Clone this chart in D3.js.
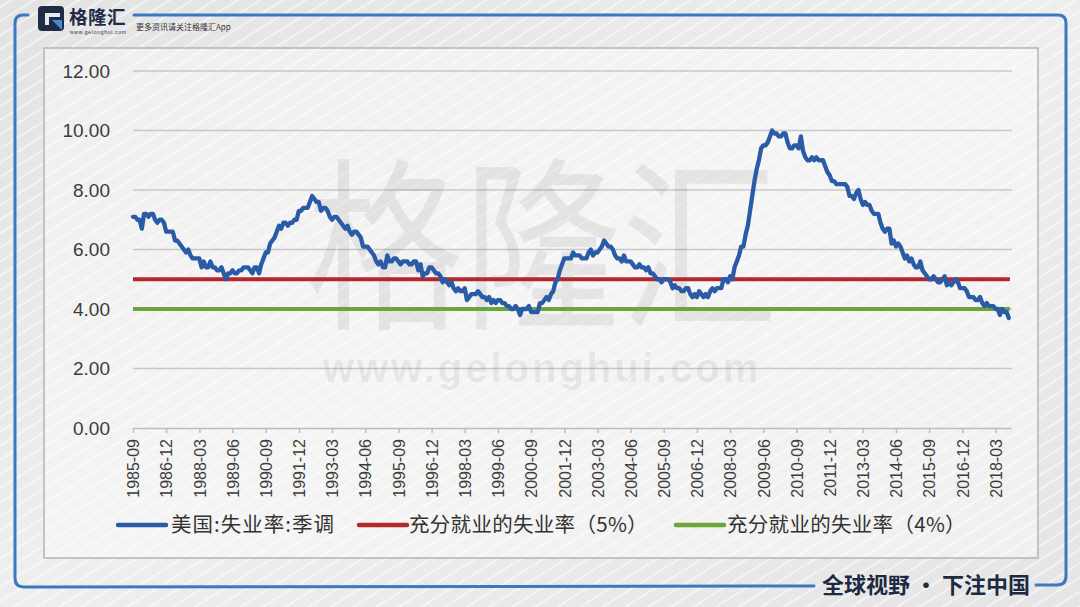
<!DOCTYPE html>
<html><head><meta charset="utf-8">
<script src="https://cdn.jsdelivr.net/npm/d3@7"></script>
<style>body{margin:0;background:#e9e9e9;} svg{display:block}</style>
</head><body><svg id="c" width="1080" height="607"></svg>
<script>
// ---------- DATA ----------
const startYear = 1985, startMonth = 9;
// US unemployment rate, seasonally adjusted, monthly 1985-09 .. 2018-09
const unemployment = [
  7.1,7.1,7.0,7.0,
  6.7,7.2,7.2,7.1,7.2,7.2,7.0,6.9,7.0,7.0,6.9,6.6,
  6.6,6.6,6.6,6.3,6.3,6.2,6.1,6.0,5.9,6.0,5.8,5.7,
  5.7,5.7,5.7,5.4,5.6,5.4,5.4,5.6,5.4,5.4,5.3,5.3,
  5.4,5.2,5.0,5.2,5.2,5.3,5.2,5.2,5.3,5.3,5.4,5.4,
  5.4,5.3,5.2,5.4,5.4,5.2,5.5,5.7,5.9,5.9,6.2,6.3,
  6.4,6.6,6.8,6.7,6.9,6.9,6.8,6.9,6.9,7.0,7.0,7.3,
  7.3,7.4,7.4,7.4,7.6,7.8,7.7,7.6,7.6,7.3,7.4,7.4,
  7.3,7.1,7.0,7.1,7.1,7.0,6.9,6.8,6.7,6.8,6.6,6.5,
  6.6,6.6,6.5,6.4,6.1,6.1,6.1,6.0,5.9,5.8,5.6,5.5,
  5.6,5.4,5.4,5.8,5.6,5.6,5.7,5.7,5.6,5.5,5.6,5.6,
  5.6,5.5,5.5,5.6,5.6,5.3,5.5,5.1,5.2,5.2,5.4,5.4,
  5.3,5.2,5.2,5.1,4.9,5.0,4.9,4.8,4.9,4.7,4.6,4.7,
  4.6,4.6,4.7,4.3,4.4,4.5,4.5,4.5,4.6,4.5,4.4,4.4,
  4.3,4.4,4.2,4.3,4.2,4.3,4.3,4.2,4.2,4.1,4.1,4.0,
  4.0,4.1,4.0,3.8,4.0,4.0,4.0,4.1,3.9,3.9,3.9,3.9,
  4.2,4.2,4.3,4.4,4.3,4.5,4.6,4.9,5.0,5.3,5.5,5.7,
  5.7,5.7,5.7,5.9,5.8,5.8,5.8,5.7,5.7,5.7,5.9,6.0,
  5.8,5.9,5.9,6.0,6.1,6.3,6.2,6.1,6.1,6.0,5.8,5.7,
  5.7,5.6,5.8,5.6,5.6,5.6,5.5,5.4,5.4,5.5,5.4,5.4,
  5.3,5.4,5.2,5.2,5.1,5.0,5.0,4.9,5.0,5.0,5.0,4.9,
  4.7,4.8,4.7,4.7,4.6,4.6,4.7,4.7,4.5,4.4,4.5,4.4,
  4.6,4.5,4.4,4.5,4.4,4.6,4.7,4.6,4.7,4.7,4.7,5.0,
  5.0,4.9,5.1,5.0,5.4,5.6,5.8,6.1,6.1,6.5,6.8,7.3,
  7.8,8.3,8.7,9.0,9.4,9.5,9.5,9.6,9.8,10.0,9.9,9.9,
  9.8,9.8,9.9,9.9,9.6,9.4,9.4,9.5,9.5,9.4,9.8,9.3,
  9.1,9.0,9.0,9.1,9.0,9.1,9.0,9.0,9.0,8.8,8.6,8.5,
  8.3,8.3,8.2,8.2,8.2,8.2,8.2,8.1,7.8,7.8,7.7,7.9,
  8.0,7.7,7.5,7.6,7.5,7.5,7.3,7.2,7.2,7.2,6.9,6.7,
  6.6,6.7,6.7,6.2,6.3,6.1,6.2,6.1,5.9,5.7,5.8,5.6,
  5.7,5.5,5.4,5.4,5.6,5.3,5.2,5.1,5.0,5.0,5.1,5.0,
  4.9,4.9,5.0,5.1,4.8,4.9,4.8,4.9,5.0,4.9,4.7,4.7,
  4.7,4.6,4.4,4.4,4.4,4.3,4.3,4.4,4.2,4.1,4.2,4.1,
  4.1,4.1,4.0,4.0,3.8,4.0,3.9,3.9,3.7
];
const fullEmployment5 = 5;
const fullEmployment4 = 4;
const tickLabels = ["1985-09","1986-12","1988-03","1989-06","1990-09","1991-12","1993-03","1994-06","1995-09","1996-12","1998-03","1999-06","2000-09","2001-12","2003-03","2004-06","2005-09","2006-12","2008-03","2009-06","2010-09","2011-12","2013-03","2014-06","2015-09","2016-12","2018-03"];
const yTicks = [0,2,4,6,8,10,12];
const seriesNames = ["美国:失业率:季调","充分就业的失业率（5%）","充分就业的失业率（4%）"];
const seriesColors = ["#2a5ba6","#b3282d","#6ca53a"];

const categories = unemployment.map((_, i) => {
  const m = startMonth - 1 + i;
  return `${startYear + Math.floor(m / 12)}-${String(m % 12 + 1).padStart(2, "0")}`;
});

// ---------- DRAW ----------
const svg = d3.select("#c");
const defs = svg.append("defs");
const bgGrad = defs.append("linearGradient").attr("id","bgg").attr("x1","0").attr("y1","0").attr("x2","1").attr("y2","1");
bgGrad.append("stop").attr("offset","0").attr("stop-color","#e3e3e3");
bgGrad.append("stop").attr("offset","0.5").attr("stop-color","#eeeeee");
bgGrad.append("stop").attr("offset","1").attr("stop-color","#e5e5e5");
const pat = defs.append("pattern").attr("id","stripes").attr("patternUnits","userSpaceOnUse")
  .attr("width",12).attr("height",12).attr("patternTransform","rotate(-32)");
pat.append("line").attr("x1",0).attr("y1",6).attr("x2",12).attr("y2",6)
  .attr("stroke","#ffffff").attr("stroke-width",1.1).attr("stroke-opacity",0.9);

svg.append("rect").attr("width",1080).attr("height",607).attr("fill","url(#bgg)");
svg.append("rect").attr("width",1080).attr("height",607).attr("fill","url(#stripes)");

// inner panel
svg.append("rect").attr("x",44).attr("y",48).attr("width",994).attr("height",510)
  .attr("fill","#ffffff").attr("fill-opacity",0.4).attr("stroke","#b4b4b4").attr("stroke-width",1.5);

// frame
const frameColor = "#3b78c0";
const frame = svg.append("g").attr("fill","none").attr("stroke",frameColor).attr("stroke-width",3).attr("stroke-linecap","round");
frame.append("path").attr("d","M28,15 L23,15 Q15,15 15,23 L15,578 Q15,587 24,587 L814,586");
frame.append("path").attr("d","M134,15 L1058,15 Q1066,15 1066,23 L1066,576 Q1066,585 1057,585 L1036,585");

// logo
const logo = svg.append("g");
logo.append("rect").attr("x",38).attr("y",6).attr("width",26).attr("height",25).attr("rx",4).attr("fill","#1e2c48");
logo.append("path").attr("d","M45,13 L60,13 L60,17 L49,17 L49,25 L45,25 Z").attr("fill","#e9e9e9");
logo.append("path").attr("d","M52,20 L62,20 L62,30 Z").attr("fill","#4a8ad0");
logo.append("text").attr("x",69).attr("y",24).attr("font-family","Noto Sans CJK SC").attr("font-weight",700)
  .attr("font-size",18.5).attr("fill","#1e2c48").attr("letter-spacing",0.5).text("格隆汇");
logo.append("text").attr("x",70).attr("y",34).attr("font-family","Liberation Sans").attr("font-size",5)
  .attr("fill","#1e2c48").attr("textLength",56).text("www.gelonghui.com");
logo.append("text").attr("x",136).attr("y",30).attr("font-family","Noto Sans CJK SC").attr("font-size",8)
  .attr("fill","#333").text("更多资讯请关注格隆汇App");

// scales
const x = d3.scaleLinear().domain([0, categories.length]).range([133, 1011]);
const y = d3.scaleLinear().domain([0, 12]).range([428, 71]);

// gridlines
svg.append("g").selectAll("line").data(yTicks.filter(d => d !== 0)).join("line")
  .attr("x1", x(0)).attr("x2", x(categories.length) + 1)
  .attr("y1", d => y(d)).attr("y2", d => y(d))
  .attr("stroke","#c8c8c8").attr("stroke-width",1.5);

// watermark
const wm = svg.append("g").attr("fill","#000").attr("fill-opacity",0.065);
wm.append("text").attr("transform","translate(542,315) scale(0.85,1)").attr("text-anchor","middle")
  .attr("font-family","Noto Sans CJK SC").attr("font-weight",400).attr("font-size",185)
  .text("格隆汇");
wm.append("text").attr("x",542).attr("y",382).attr("text-anchor","middle")
  .attr("font-family","Liberation Sans").attr("font-weight",700).attr("font-size",40)
  .attr("letter-spacing",3).text("www.gelonghui.com");

// y axis
const yAxis = svg.append("g").attr("transform","translate(110,0)")
  .call(d3.axisLeft(y).tickValues(yTicks).tickFormat(d3.format(".2f")).tickSize(0).tickPadding(0));
yAxis.select(".domain").remove();
yAxis.selectAll("text").attr("font-family","Liberation Sans").attr("font-size",19).attr("fill","#3c3c3c");

// x axis
const xAxis = svg.append("g").attr("transform","translate(0,428)")
  .call(d3.axisBottom(x).tickValues(tickLabels.map(l => categories.indexOf(l)))
    .tickFormat(i => categories[i]).tickSize(5).tickSizeOuter(0));
xAxis.select(".domain").attr("stroke","#bdbdbd").attr("stroke-width",1.5);
xAxis.selectAll(".tick line").attr("stroke","#bdbdbd").attr("stroke-width",1.5);
xAxis.selectAll("text").attr("font-family","Liberation Sans").attr("font-size",16).attr("fill","#3c3c3c")
  .attr("transform","rotate(-90)").attr("text-anchor","end").attr("x",-11).attr("y",0).attr("dy","0.36em");

// benchmark lines
const lineGen = d3.line().x(d => x(d[0])).y(d => y(d[1]));
const lastIdx = categories.length - 1;
svg.append("path").datum([[0, fullEmployment5],[lastIdx + 0.5, fullEmployment5]])
  .attr("d", lineGen).attr("stroke", seriesColors[1]).attr("stroke-width",4).attr("fill","none");
svg.append("path").datum([[0, fullEmployment4],[lastIdx + 0.5, fullEmployment4]])
  .attr("d", lineGen).attr("stroke", seriesColors[2]).attr("stroke-width",4).attr("fill","none");

// main series
svg.append("path").datum(unemployment.map((v, i) => [i, v]))
  .attr("d", lineGen).attr("fill","none").attr("stroke", seriesColors[0])
  .attr("stroke-width",4.3).attr("stroke-linejoin","round").attr("stroke-linecap","round");

// legend
const legendItems = [
  {name: seriesNames[0], color: seriesColors[0], lx: 118, tx: 171, ls: 1},
  {name: seriesNames[1], color: seriesColors[1], lx: 359, tx: 409, ls: 0.3},
  {name: seriesNames[2], color: seriesColors[2], lx: 676, tx: 727, ls: 0.3}
];
const lg = svg.append("g");
legendItems.forEach(it => {
  lg.append("line").attr("x1", it.lx).attr("x2", it.lx + 48).attr("y1",525).attr("y2",525)
    .attr("stroke", it.color).attr("stroke-width",4.5).attr("stroke-linecap","round");
  lg.append("text").attr("x", it.tx).attr("y",532).attr("font-family","Noto Sans CJK SC")
    .attr("font-size",20.5).attr("fill","#333").attr("letter-spacing", it.ls).text(it.name);
});

// footer slogan
svg.append("text").attr("x",822).attr("y",593).attr("font-family","Noto Sans CJK SC").attr("font-weight",700)
  .attr("font-size",22).attr("fill","#1c2a42").text("全球视野 · 下注中国");
</script></body></html>
